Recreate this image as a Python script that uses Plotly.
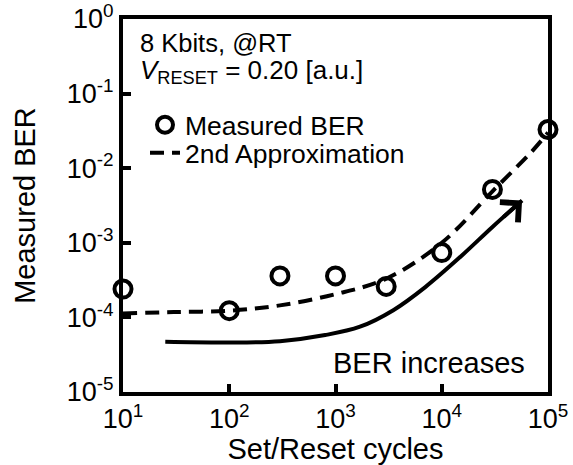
import plotly.graph_objects as go
import math

# Measured BER (open circles)
meas_cycles = [10, 100, 300, 1000, 3000, 10000, 30000, 100000]
meas_ber = [2.4e-4, 1.23e-4, 3.6e-4, 3.6e-4, 2.6e-4, 7.4e-4, 5.2e-3, 3.3e-2]

# 2nd approximation (dashed curve)
appr_cycles = [10, 30, 100, 300, 1000, 3000, 10000, 30000, 70000, 100000]
appr_ber = [1.13e-4, 1.18e-4, 1.23e-4, 1.45e-4, 2.05e-4, 3.3e-4, 1.0e-3, 4.9e-3, 1.66e-2, 3.0e-2]

# "BER increases" guide arrow
arrow_cycles = [25, 100, 300, 800, 1700, 3500, 7000, 15000, 30000, 57000]
arrow_ber = [4.7e-5, 4.6e-5, 4.8e-5, 5.8e-5, 7.5e-5, 1.25e-4, 2.55e-4, 6.5e-4, 1.63e-3, 3.7e-3]

x_tickvals = [10, 100, 1000, 10000, 100000]
x_ticktext = ["10<sup>1</sup>", "10<sup>2</sup>", "10<sup>3</sup>", "10<sup>4</sup>", "10<sup>5</sup>"]
y_tickvals = [1e-5, 1e-4, 1e-3, 1e-2, 1e-1, 1]
y_ticktext = ["10<sup>-5</sup>", "10<sup>-4</sup>", "10<sup>-3</sup>", "10<sup>-2</sup>", "10<sup>-1</sup>", "10<sup>0</sup>"]

FONT = "Liberation Sans, Arial, sans-serif"
W, H = 573, 465
ml, mr, mt, mb = 123, 25, 19, 73
pw, ph = W - ml - mr, H - mt - mb

def px_x(p):
    return (p - ml) / pw

def px_y(p):
    return (H - mb - p) / ph

fig = go.Figure()

fig.add_trace(go.Scatter(
    x=arrow_cycles, y=arrow_ber, mode="lines",
    line=dict(color="black", width=4, shape="spline"),
    showlegend=False, hoverinfo="skip", cliponaxis=False,
))

fig.add_trace(go.Scatter(
    x=appr_cycles, y=appr_ber, mode="lines", name="2nd Approximation",
    line=dict(color="black", width=4, dash="14px,8px", shape="spline"),
    legend="legend2", cliponaxis=False,
))

fig.add_trace(go.Scatter(
    x=meas_cycles, y=meas_ber, mode="markers", name="Measured BER",
    marker=dict(symbol="circle-open", size=17, color="black", line=dict(width=4, color="black")),
    legend="legend", cliponaxis=False,
))

# arrow head at end of guide curve
fig.add_annotation(
    x=math.log10(arrow_cycles[-1]), y=math.log10(arrow_ber[-1]), xref="x", yref="y",
    ax=-20, ay=18, axref="pixel", ayref="pixel", text="", showarrow=True,
    arrowhead=4, arrowsize=1.3, arrowwidth=4, arrowcolor="black", standoff=0,
)

fig.add_annotation(x=px_x(527), y=px_y(363), xref="paper", yref="paper",
                   text="BER increases", showarrow=False, xanchor="right", yanchor="middle",
                   font=dict(family=FONT, size=29, color="black"))
fig.add_annotation(x=px_x(138), y=px_y(43), xref="paper", yref="paper",
                   text="8 Kbits, @RT", showarrow=False, xanchor="left", yanchor="middle",
                   font=dict(family=FONT, size=25.5, color="black"))
fig.add_annotation(x=px_x(138), y=px_y(71), xref="paper", yref="paper",
                   text="<i>V</i><sub>RESET</sub> = 0.20 [a.u.]", showarrow=False,
                   xanchor="left", yanchor="middle",
                   font=dict(family=FONT, size=26, color="black"))

axis_common = dict(
    type="log", showgrid=False, zeroline=False, automargin=False,
    showline=True, linecolor="black", linewidth=4, mirror=True,
    ticks="inside", ticklen=8, tickwidth=4, tickcolor="black",
    tickfont=dict(family=FONT, size=27, color="black"),
    minor=dict(showgrid=False, ticks=""),
)

fig.update_xaxes(**axis_common, range=[1, 5], tickvals=x_tickvals, ticktext=x_ticktext,
                 title=dict(text="Set/Reset cycles", font=dict(family=FONT, size=29, color="black"), standoff=2))
fig.update_yaxes(**axis_common, range=[-5, 0], tickvals=y_tickvals, ticktext=y_ticktext,
                 title=dict(text="Measured BER", font=dict(family=FONT, size=29, color="black"), standoff=24))

legend_common = dict(
    bgcolor="rgba(0,0,0,0)", borderwidth=0,
    font=dict(family=FONT, size=26.5, color="black"),
    xanchor="left", yanchor="middle", itemwidth=30,
)

fig.update_layout(
    width=W, height=H,
    margin=dict(l=ml, r=mr, t=mt, b=mb),
    paper_bgcolor="white", plot_bgcolor="white",
    showlegend=True,
    legend=dict(**legend_common, x=px_x(145), y=px_y(125)),
    legend2=dict(**legend_common, x=px_x(145), y=px_y(153)),
)

fig.write_html("out.html")
